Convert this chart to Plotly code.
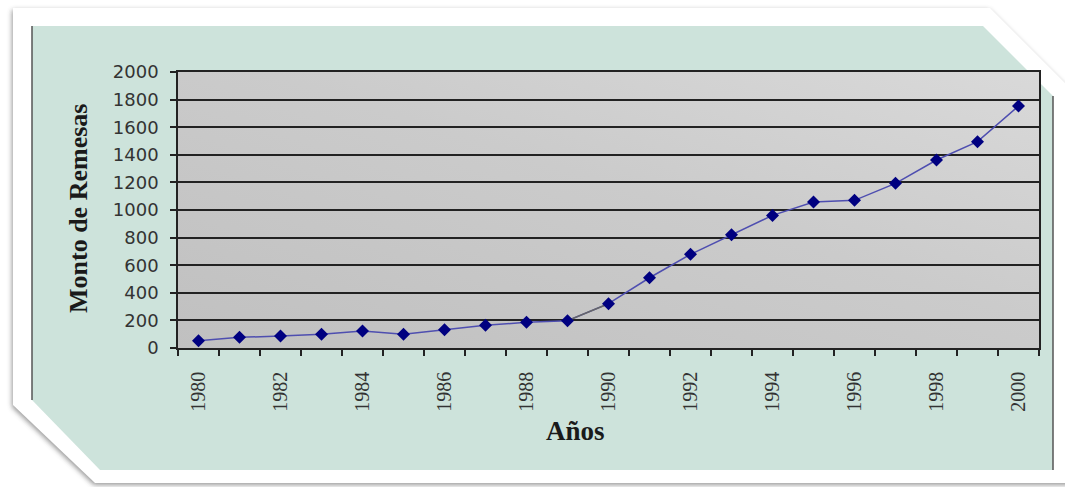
import base64
import plotly.graph_objects as go

# ---- data ----
years = list(range(1980, 2001))
remesas = [53, 77, 87, 99, 123, 99, 133, 164, 186, 198, 321, 509, 679, 821, 961,
           1058, 1070, 1193, 1362, 1495, 1754]
label_years = list(range(1980, 2001, 2))
y_ticks = list(range(0, 2001, 200))

# ---- page geometry (pixels) ----
W, H = 1065, 487
L, R, T, B = 178, 1039, 72, 348
pw, ph = R - L, B - T


def px(x):
    return (x - L) / pw


def py(y):
    return (B - y) / ph


svg = f'''<svg xmlns="http://www.w3.org/2000/svg" width="{W}" height="{H}" viewBox="0 0 {W} {H}" preserveAspectRatio="none">
<defs>
<filter id="sh" x="-5%" y="-10%" width="110%" height="120%"><feGaussianBlur stdDeviation="2.5"/></filter>
<linearGradient id="g" x1="0" y1="1" x2="1" y2="0">
<stop offset="0" stop-color="#c0c0c0"/>
<stop offset="0.55" stop-color="#cbcbcb"/>
<stop offset="1" stop-color="#d9d9d9"/>
</linearGradient>
</defs>
<rect width="{W}" height="{H}" fill="#ffffff"/>
<polygon points="13,8 990,8 1075,93 1075,483 95,483 13,405" fill="#444" opacity="0.55" filter="url(#sh)" transform="translate(-1,2)"/>
<polygon points="13,8 990,8 1075,93 1075,483 95,483 13,405" fill="#ffffff"/>
<polygon points="32,26 983,26 1053,96 1053,470 100,470 32,400" fill="#cde3db"/>
<line x1="32" y1="26" x2="32" y2="400" stroke="#555" stroke-width="1.5"/>
<line x1="1053" y1="96" x2="1053" y2="470" stroke="#555" stroke-width="1.5"/>
<rect x="{L}" y="{T}" width="{pw}" height="{ph}" fill="url(#g)"/>
</svg>'''
src = "data:image/svg+xml;base64," + base64.b64encode(svg.encode()).decode()

fig = go.Figure()
fig.add_trace(go.Scatter(x=years, y=remesas, mode="lines",
                         line=dict(color="#4e4eb0", width=1.5),
                         hoverinfo="skip", showlegend=False))
fig.add_trace(go.Scatter(x=years[9:11], y=remesas[9:11], mode="lines",
                         line=dict(color="#666666", width=1.5),
                         hoverinfo="skip", showlegend=False))
fig.add_trace(go.Scatter(x=years, y=remesas, mode="markers",
                         marker=dict(symbol="diamond", size=10, color="#000080",
                                     line=dict(width=0)),
                         showlegend=False))

fig.update_layout(
    width=W, height=H,
    margin=dict(l=L, r=W - R, t=T, b=H - B, pad=0),
    paper_bgcolor="white",
    plot_bgcolor="rgba(0,0,0,0)",
    images=[dict(source=src, xref="paper", yref="paper",
                 x=px(0), y=py(0), sizex=W / pw, sizey=H / ph,
                 xanchor="left", yanchor="top", sizing="stretch",
                 layer="below")],
    annotations=[
        dict(text="<b>Monto de Remesas</b>", xref="paper", yref="paper",
             x=px(78), y=py(209), textangle=-90, showarrow=False,
             xanchor="center", yanchor="middle",
             font=dict(family="Liberation Serif", size=26, color="#1a1a1a")),
        dict(text="<b>Años</b>", xref="paper", yref="paper",
             x=px(575), y=py(431), showarrow=False,
             xanchor="center", yanchor="middle",
             font=dict(family="Liberation Serif", size=27, color="#1a1a1a")),
    ],
)

fig.update_xaxes(
    range=[1979.5, 2000.5],
    tickvals=label_years, ticktext=[str(v) for v in label_years],
    tickangle=-90, ticks="", ticklabelstandoff=14,
    tickfont=dict(family="Liberation Sans Narrow", size=20, color="#333333"),
    showgrid=False, zeroline=False,
    showline=True, linecolor="#222222", linewidth=1.5, mirror=True,
    minor=dict(ticks="outside", ticklen=6, tickcolor="#222222", tickwidth=1.5,
               tick0=1979.5, dtick=1, showgrid=False),
)
fig.update_yaxes(
    range=[0, 2000], tickvals=y_ticks,
    ticks="outside", ticklen=6, tickcolor="#222222", tickwidth=1.5,
    ticklabelstandoff=8,
    tickfont=dict(family="DejaVu Sans", size=18, color="#333333"),
    showgrid=True, gridcolor="#222222", gridwidth=1.5,
    zeroline=False,
    showline=True, linecolor="#222222", linewidth=1.5, mirror=True,
)

fig.write_html("out.html",
               config={"displayModeBar": False},
               post_script="document.body.style.margin='0px';"
                           "document.body.style.overflow='hidden';")
